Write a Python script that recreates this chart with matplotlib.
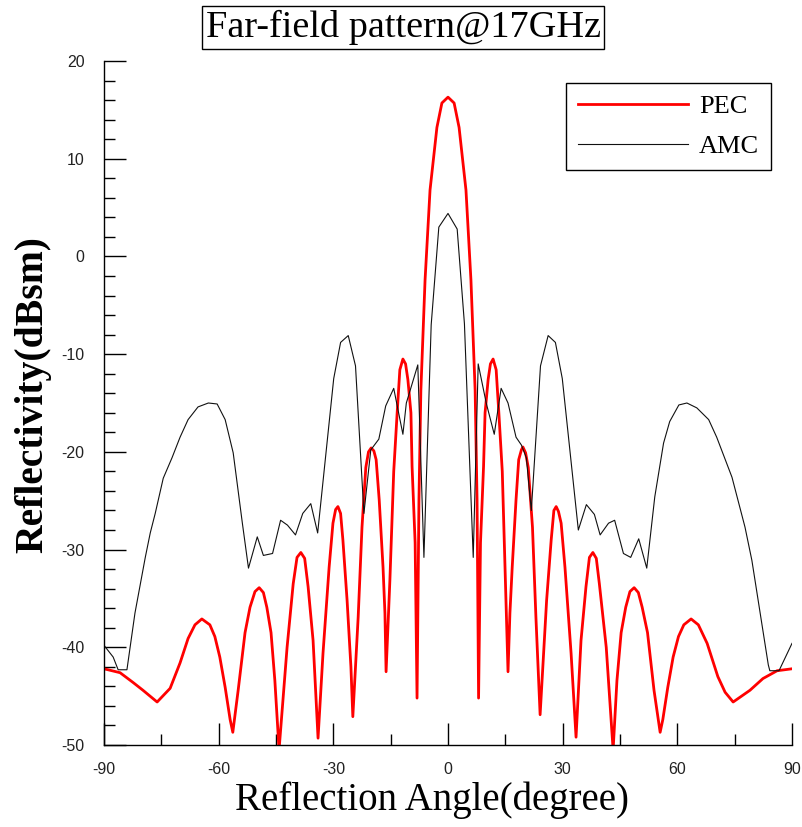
"""
Far-field RCS pattern of a PEC plate vs. an AMC surface at 17 GHz.
"""

import matplotlib
matplotlib.use("Agg")
import matplotlib.pyplot as plt
import matplotlib.ticker as ticker

# ---------------------------------------------------------------------------
# Data
# ---------------------------------------------------------------------------

PEC_ANGLE = [
    -90, -85.8, -82.4, -79.8, -76.1, -72.7, -70.1, -68.0, -66.2, -64.4,
    -62.3, -61.0, -59.7, -58.3, -57.0, -56.3, -54.9, -53.1, -51.8, -50.5,
    -49.4, -48.3, -47.4, -46.3, -45.3, -44.2, -42.1, -40.5, -39.5, -38.5,
    -37.5, -36.6, -35.3, -34.5, -34.0, -32.7, -31.1, -30.1, -29.4, -28.8,
    -28.1, -27.5, -26.4, -25.4, -24.9, -23.5, -22.5, -21.5, -20.8, -20.1,
    -19.4, -18.8, -18.0, -17.0, -16.5, -16.2, -15.2, -14.2, -13.3, -12.6,
    -11.8, -11.1, -10.5, -9.7, -9.4, -8.6, -8.1, -7.6, -7.1, -6.0,
    -4.7, -2.9, -1.6, 0.0, 1.6, 2.9, 4.7, 6.0, 7.1, 7.6,
    8.0, 8.5, 9.3, 9.7, 10.5, 11.1, 11.8, 12.6, 13.3, 14.2,
    15.0, 15.7, 16.2, 16.8, 17.8, 18.5, 19.2, 19.6, 20.3, 21.0,
    22.1, 23.0, 24.1, 24.8, 25.8, 27.0, 27.7, 28.3, 28.9, 29.6,
    30.6, 32.2, 33.5, 34.0, 34.8, 36.1, 37.0, 37.9, 38.8, 39.6,
    41.4, 43.2, 44.2, 45.3, 46.5, 47.6, 48.7, 49.8, 50.8, 52.2,
    53.9, 55.5, 56.2, 57.5, 58.9, 60.3, 61.7, 63.6, 65.5, 67.8,
    70.6, 72.5, 74.6, 79.0, 82.4, 86.1, 90,
]
PEC_DB = [
    -42.2, -42.6, -43.6, -44.4, -45.6, -44.2, -41.6, -39.1, -37.7, -37.1,
    -37.7, -38.9, -41.0, -44.1, -47.4, -48.7, -44.4, -38.5, -35.9, -34.3,
    -33.9, -34.4, -35.9, -38.5, -43.4, -50.5, -40.0, -33.5, -30.8, -30.3,
    -30.9, -33.8, -39.3, -45.4, -49.3, -40.6, -31.8, -27.3, -25.9, -25.6,
    -26.3, -29.0, -35.2, -42.0, -47.1, -36.9, -27.7, -21.6, -20.0, -19.6,
    -19.9, -20.8, -24.9, -31.8, -36.5, -42.5, -33.1, -22.0, -16.0, -11.6,
    -10.5, -11.0, -12.6, -16.0, -21.5, -29.3, -45.2, -24.9, -13.7, -2.4,
    6.8, 13.2, 15.7, 16.3, 15.7, 13.2, 6.8, -2.4, -13.7, -24.9,
    -45.2, -29.3, -21.5, -16.0, -12.6, -11.0, -10.5, -11.6, -16.0, -22.0,
    -33.1, -42.5, -36.5, -31.8, -24.9, -20.8, -19.8, -19.5, -20.1, -21.6,
    -27.7, -36.9, -46.9, -42.0, -35.2, -29.0, -26.0, -25.6, -26.1, -27.3,
    -31.8, -40.6, -49.2, -45.4, -39.3, -33.8, -30.8, -30.3, -30.9, -33.5,
    -40.0, -50.5, -43.4, -38.5, -35.9, -34.3, -33.9, -34.4, -35.9, -38.5,
    -44.4, -48.7, -47.4, -44.1, -41.0, -38.9, -37.7, -37.1, -37.7, -39.6,
    -43.0, -44.6, -45.6, -44.4, -43.2, -42.4, -42.2,
]

AMC_ANGLE = [
    -90, -87.6, -86.3, -84.0, -81.9, -79.2, -77.9, -76.6, -74.5, -72.2,
    -70.1, -68.0, -65.4, -62.7, -60.4, -58.3, -56.2, -53.8, -52.2, -49.9,
    -48.3, -45.9, -43.8, -42.0, -39.9, -38.0, -35.9, -34.1, -29.9, -28.1,
    -26.1, -24.2, -22.0, -20.2, -18.1, -16.3, -14.2, -11.8, -10.9, -7.9,
    -6.3, -4.4, -2.4, 0.0, 2.4, 4.3, 6.6, 7.9, 10.0, 12.1,
    13.9, 15.7, 17.8, 19.2, 20.5, 21.8, 24.2, 26.2, 28.1, 29.9,
    34.1, 36.2, 38.3, 39.8, 42.0, 43.6, 45.9, 47.8, 49.9, 52.0,
    54.1, 56.4, 58.0, 60.4, 62.5, 65.1, 68.2, 70.3, 74.3, 77.7,
    79.5, 83.8, 84.2, 86.6, 90,
]
AMC_DB = [
    -39.8, -41.0, -42.3, -42.3, -36.5, -30.8, -28.3, -26.3, -22.7, -20.6,
    -18.5, -16.7, -15.4, -15.0, -15.1, -16.7, -20.1, -27.3, -31.9, -28.7,
    -30.6, -30.4, -27.0, -27.5, -28.5, -26.3, -25.3, -28.3, -12.5, -8.8,
    -8.1, -11.2, -26.3, -19.8, -18.7, -15.3, -13.5, -18.2, -15.0, -11.1,
    -30.8, -7.0, 3.0, 4.4, 2.8, -6.9, -30.8, -11.0, -15.0, -18.2,
    -13.5, -15.0, -18.5, -19.3, -20.6, -26.0, -11.2, -8.1, -8.8, -12.5,
    -28.0, -25.4, -26.4, -28.5, -27.3, -27.0, -30.4, -30.8, -28.9, -31.9,
    -24.6, -19.1, -16.9, -15.2, -15.0, -15.5, -16.7, -18.5, -22.6, -27.7,
    -31.1, -41.8, -42.4, -42.4, -39.6,
]

X_TICKS = [-90, -60, -30, 0, 30, 60, 90]
Y_TICKS = [20, 10, 0, -10, -20, -30, -40, -50]

SERIF = ["Liberation Serif", "DejaVu Serif"]
SANS = ["Liberation Sans", "DejaVu Sans"]


def draw():
    plt.rcParams["axes.unicode_minus"] = False

    fig = plt.figure(figsize=(8.03, 8.27), dpi=100)
    ax = fig.add_axes([104 / 803, 1 - 745 / 827, 688 / 803, 684 / 827])

    ax.plot(PEC_ANGLE, PEC_DB, color="#ff0000", lw=2.0, label="PEC",
            solid_joinstyle="round")
    ax.plot(AMC_ANGLE, AMC_DB, color="#111111", lw=0.8, label="AMC")

    ax.set_xlim(-90, 90)
    ax.set_ylim(-50, 20)

    # --- frame: only left + bottom, ticks inward ---
    for side in ("top", "right"):
        ax.spines[side].set_visible(False)
    for side in ("left", "bottom"):
        ax.spines[side].set_linewidth(1.0)

    ax.set_xticks(X_TICKS)
    ax.set_yticks(Y_TICKS)
    ax.xaxis.set_minor_locator(ticker.MultipleLocator(15))
    ax.yaxis.set_minor_locator(ticker.MultipleLocator(2))
    ax.tick_params(which="major", direction="in", length=16, width=1.0,
                   labelsize=11.5, labelcolor="#222222")
    ax.tick_params(which="minor", direction="in", length=8, width=1.0)
    ax.tick_params(axis="y", pad=14)
    ax.tick_params(axis="x", pad=12)
    for lbl in ax.get_xticklabels() + ax.get_yticklabels():
        lbl.set_family(SANS)

    ax.set_xlabel("Reflection Angle(degree)", family=SERIF, fontsize=28,
                  va="center")
    ax.set_ylabel("Reflectivity(dBsm)", family=SERIF, fontsize=28.5,
                  fontweight="bold", va="center")
    ax.xaxis.set_label_coords(0.477, -0.080)
    ax.yaxis.set_label_coords(-0.103, 0.512)

    # --- title in a box ---
    fig.text(0.502, 0.967, "Far-field pattern@17GHz", family=SERIF,
             fontsize=27.5, ha="center", va="center",
             bbox=dict(boxstyle="square,pad=0.1", facecolor="white",
                       edgecolor="black", linewidth=1.0))

    # --- legend ---
    leg = ax.legend(loc="upper right",
                    bbox_to_anchor=(771 / 803, 1 - 83 / 827),
                    bbox_transform=fig.transFigure, borderaxespad=0,
                    prop={"family": SERIF, "size": 19},
                    handlelength=4.2, handletextpad=0.4,
                    labelspacing=0.62, borderpad=0.45,
                    fancybox=False, framealpha=1, edgecolor="black")
    leg.get_frame().set_linewidth(1.0)

    fig.savefig("out.png", dpi=100)
    plt.close(fig)


def main():
    draw()


if __name__ == "__main__":
    main()
